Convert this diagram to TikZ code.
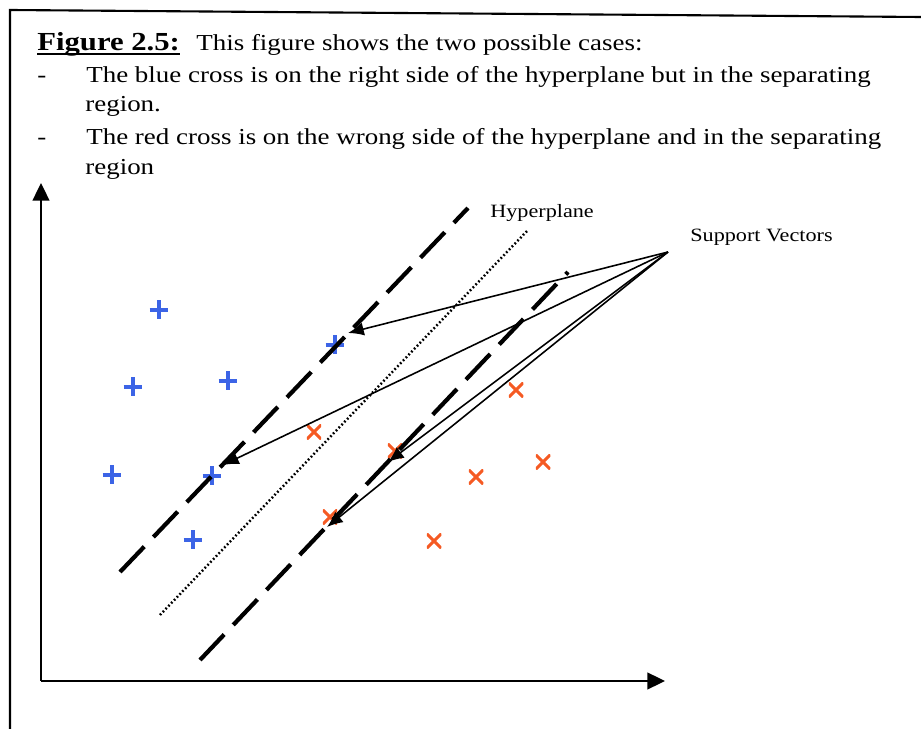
\documentclass[tikz,border=0pt]{standalone}
\usepackage{fontspec}
\setmainfont[FakeStretch=1.18]{Liberation Serif}
\usetikzlibrary{arrows.meta}

\definecolor{ptblue}{RGB}{60,100,230}
\definecolor{ptred}{RGB}{245,90,35}

\tikzset{
  txt/.style={anchor=base west, inner sep=0pt, font=\fontsize{13}{16}\selectfont},
  lbl/.style={anchor=base west, inner sep=0pt, font=\fontsize{10.7}{13}\selectfont},
  bplus/.style={inner sep=0pt, minimum size=0.38cm,
    path picture={\draw[ptblue, line width=2pt]
      (path picture bounding box.north) -- (path picture bounding box.south)
      (path picture bounding box.west) -- (path picture bounding box.east);}},
  rcross/.style={inner sep=0pt, minimum size=0.29cm,
    path picture={\draw[ptred, line width=1.8pt]
      (path picture bounding box.north west) -- (path picture bounding box.south east)
      (path picture bounding box.south west) -- (path picture bounding box.north east);}},
  margin/.style={line width=2.4pt, dash pattern=on 20pt off 7.5pt},
  hyper/.style={line width=1.4pt, dash pattern=on 1pt off 1.3pt},
  axis/.style={line width=1.1pt, -{Triangle[length=10pt,width=9.5pt]}},
  svarrow/.style={line width=0.9pt, -{Latex[length=9pt,width=7.5pt]}},
}

\begin{document}
\begin{tikzpicture}[x=0.02cm, y=-0.02cm]
    \useasboundingbox (0,0) rectangle (921,729);
    % cadre de la page
    \draw[line width=1.2pt] (10,729) -- (10,10) -- (921,17);

    \node[txt, font=\fontsize{14.8}{16}\selectfont\bfseries] (fig) at (37,51) {Figure 2.5:};
    \draw[line width=1pt] ([yshift=-1.6pt]fig.base west) -- ([yshift=-1.6pt]fig.base east);
    \node[txt] (cap) at (196,51) {This figure shows the two possible cases:};
    \node[txt] (d1) at (37,83) {-};
    \node[txt] (l1) at (86,83) {The blue cross is on the right side of the hyperplane but in the separating};
    \node[txt] (l1b) at (85,112) {region.};
    \node[txt] (d2) at (37,145) {-};
    \node[txt] (l2) at (86,145) {The red cross is on the wrong side of the hyperplane and in the separating};
    \node[txt] (l2b) at (85,175) {region};

    % axes
    \coordinate (o) at (41,681);
    \draw[axis] (o) -- (41,183);
    \draw[axis] (o) -- (665,681);

    % points
    \foreach \x/\y [count=\i] in {159/310,133/387,228/381,112/475,212/476,193/540,335/345}
        \node[bplus] (b\i) at (\x,\y) {};
    \foreach \x/\y [count=\i] in {516/390,314/432,476/477,543/462,434/541,395/451,330/517}
        \node[rcross] (r\i) at (\x,\y) {};

    % hyperplane et marges
    \draw[hyper] (160,615) -- (528,230);
    \draw[margin] (120,572) -- (468,208);
    \draw[margin] (200,660) -- (568,272);

    \node[lbl] (hp) at (490,218) {Hyperplane};
    \node[lbl] (sv) at (690,242) {Support Vectors};
    \coordinate (apex) at (668,252);

    \coordinate (t1) at (348,333);
    \coordinate (t2) at (223,465);
    \coordinate (t3) at (388,462);
    \coordinate (t4) at (327,527);
    \foreach \t in {t1,t2,t3,t4}
        \draw[svarrow] (apex) -- (\t);
\end{tikzpicture}
\end{document}
